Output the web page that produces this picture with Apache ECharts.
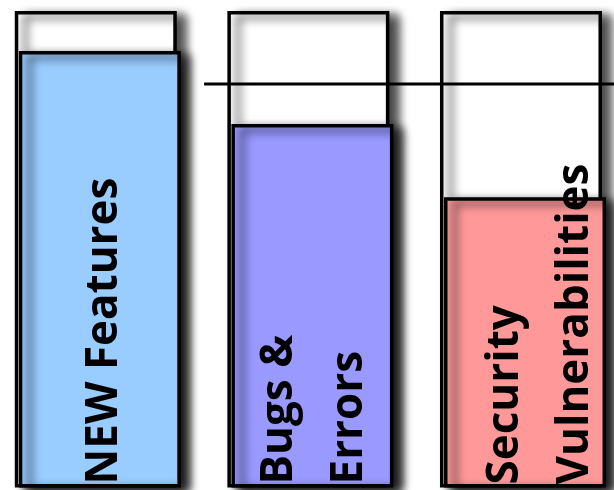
<!DOCTYPE html>
<html><head><meta charset="utf-8">
<script src="https://cdn.jsdelivr.net/npm/echarts@6/dist/echarts.min.js"></script>
<style>html,body{margin:0;padding:0;background:#fff}#c{width:614px;height:490px}</style>
</head><body><div id="c"></div>
<script>
var categories = ['NEW Features', 'Bugs & Errors', 'Security Vulnerabilities'];
var labelTexts = ['NEW Features', 'Bugs &\nErrors', 'Security\nVulnerabilities'];
var capacity = [100, 100, 100];
var levels = [91.6, 76.3, 60.9];
var target = 84.7;
var barColors = ['#99CCFF', '#9999FF', '#FF9999'];
var labelShift = [5, 2, 15];

var chart = echarts.init(document.getElementById('c'), null, {renderer: 'canvas'});
var shadow = {shadowColor: 'rgba(0,0,0,0.75)', shadowBlur: 10, shadowOffsetX: 9, shadowOffsetY: 4};
chart.setOption({
  animation: false,
  grid: {left: 97.8, right: 91, top: 11, bottom: 2.5},
  xAxis: {type: 'category', data: categories, show: false, boundaryGap: false},
  yAxis: {type: 'value', min: 0, max: 100, show: false},
  series: [
    {
      type: 'bar', barWidth: 162, barGap: '-97.5%', clip: false,
      data: capacity,
      itemStyle: Object.assign({color: '#ffffff', borderColor: '#000', borderWidth: 3.5}, shadow),
      z: 2
    },
    {
      type: 'bar', barWidth: 162, clip: false,
      data: levels.map(function (v, i) {
        return {value: v, itemStyle: {color: barColors[i]},
                label: {formatter: labelTexts[i], offset: [0, labelShift[i]]}};
      }),
      itemStyle: Object.assign({borderColor: '#000', borderWidth: 3.5}, shadow),
      label: {
        show: true, position: 'insideBottom', rotate: 90, align: 'left', verticalAlign: 'middle',
        distance: 3, fontFamily: 'Open Sans', fontWeight: 'bold', fontSize: 44, lineHeight: 70,
        color: '#000'
      },
      z: 3
    }
  ]
});
var p0 = chart.convertToPixel({xAxisIndex: 0}, 0);
var p1 = chart.convertToPixel({xAxisIndex: 0}, 1);
var ty = chart.convertToPixel({yAxisIndex: 0}, target);
chart.setOption({
  graphic: [{
    type: 'line', z: 100,
    shape: {x1: (p0 + p1) / 2, y1: ty, x2: chart.getWidth(), y2: ty},
    style: {stroke: '#000', lineWidth: 3}
  }]
});
</script>
</body></html>
